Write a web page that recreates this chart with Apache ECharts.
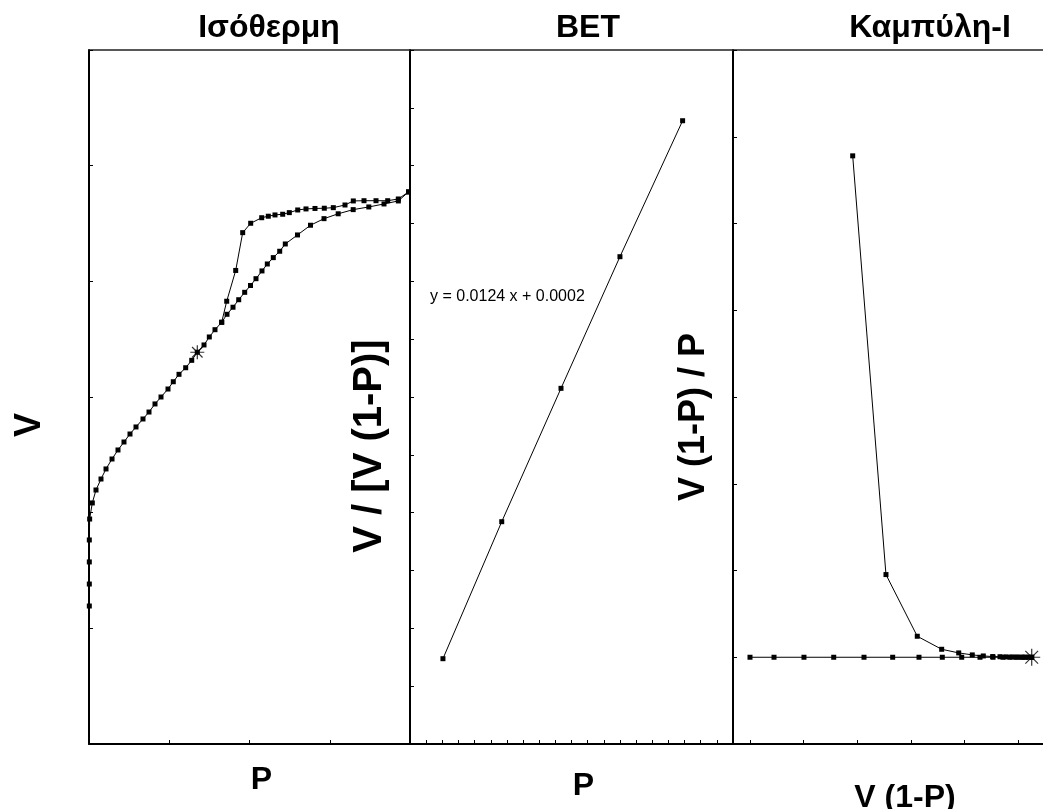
<!DOCTYPE html>
<html><head><meta charset="utf-8">
<script src="https://cdn.jsdelivr.net/npm/echarts@6/dist/echarts.min.js"></script>
<style>html,body{margin:0;padding:0;background:#fff}#c{width:1043px;height:809px}</style>
</head><body><div id="c"></div>
<script>
// ---- texts ----
const panelTitles = ['Ισόθερμη', 'BET', 'Καμπύλη-I'];
const xNames = ['P', 'P', 'V (1-P)'];
const yNames = ['V', 'V / [V (1-P)]', 'V (1-P) / P'];
const betFit = 'y = 0.0124 x + 0.0002';

// ---- panel 1: isotherm (adsorption / desorption) ----
const isoAdsP = [0.001,0.001,0.001,0.001,0.002,0.0103,0.0218,0.0374,0.053,0.0717,0.0903,0.109,0.1277,0.1464,0.1682,0.1869,0.2056,0.2243,0.2461,0.2626,0.2804,0.3012,0.32,0.3374,0.3583,0.3748,0.3925,0.4134,0.4299,0.4486,0.4664,0.485,0.5031,0.5202,0.5389,0.5555,0.5741,0.5941,0.6115,0.6495,0.69,0.7321,0.7763,0.823,0.8717,0.919,0.9636,0.9953];
const isoAdsV = [119.3,138.3,157.4,176.4,194.5,208.4,219.6,229.1,237.8,246.4,254.2,261.1,268,274.1,281,287,294,300,306.9,313.2,319.6,325.3,331.7,338.7,345,351.9,358.2,364.6,371.5,377.6,384.1,390.5,396.4,402.3,409,415,420.5,426,432.3,440.1,448.5,454.2,458.4,462,464.3,466.9,469.5,477.3];
const isoDesP = [0.9953,0.9636,0.9305,0.8941,0.8567,0.8234,0.7975,0.7611,0.733,0.704,0.676,0.6502,0.624,0.6034,0.5794,0.5586,0.538,0.5037,0.4788,0.457,0.429,0.4134];
const isoDesV = [477.3,471.2,469.7,469.7,469.7,469.5,466,463.7,463.2,463,462.6,461.7,459.4,458,457.4,456.3,455,450.2,442.1,409.4,382.8,364.6];
const isoStar = [0.3374, 338.7];

// ---- panel 2: BET ----
const betP = [0.102, 0.284, 0.4675, 0.650, 0.844];
const betY = [0.001475, 0.003844, 0.00615, 0.008426, 0.010777];

// ---- panel 3: curve I ----
const crvX = [1.916,2.537,3.121,3.576,3.894,4.147,4.353,4.528,4.664,4.776,4.888,4.981,5.075,5.149,5.256];
const crvY = [5.78,0.953,0.242,0.092,0.05,0.027,0.015,0.008,0.006,0.004,0.003,0.002,0.001,0.0005,0];
const flatX = [0,0.448,1.007,1.562,2.127,2.662,3.153,3.588,3.95,4.291,4.534,4.72,4.851,4.963,5.056,5.131,5.205,5.256];
const flatY = [0,0,0,0,0,0,0,0,0,0,0,0,0,0,0,0,0,0];
const crvStar = [5.256, 0];
const crvTicks = [0, 1, 2, 3, 4, 5];

const zip = (a, b) => a.map((v, i) => [v, b[i]]);
const FONT = 'Liberation Sans, Arial, sans-serif';
const STAR = 'path://M0,-10L0,10M-7.5,-7.5L7.5,7.5M-7.5,7.5L7.5,-7.5M-10,0L10,0';

const chart = echarts.init(document.getElementById('c'), null, {renderer: 'canvas'});

const lineAx = {show: true, onZero: false, lineStyle: {color: '#000', width: 2}};
function xAx(i, min, max, interval, name, gap, pad, ticks) {
  const a = {
    type: 'value', gridIndex: i, min, max, position: 'bottom',
    axisLine: lineAx, splitLine: {show: false}, axisLabel: {show: false},
    axisTick: {show: true, inside: true, length: 4, lineStyle: {color: '#000', width: 1}},
    name, nameLocation: 'middle', nameGap: gap,
    nameTextStyle: {fontFamily: FONT, fontWeight: 'bold', fontSize: 32, color: '#000', padding: pad}
  };
  if (interval != null) a.interval = interval;
  if (ticks) a.axisTick.customValues = ticks;
  return a;
}
function xTop(i, min, max) {
  return {type: 'value', gridIndex: i, min, max, position: 'top',
    axisLine: {show: true, onZero: false, lineStyle: {color: '#222', width: 1.5}},
    axisTick: {show: false}, axisLabel: {show: false}, splitLine: {show: false}};
}
function yAx(i, min, max, interval, name, gap, pad, fs) {
  return {
    type: 'value', gridIndex: i, min, max, interval, position: 'left',
    axisLine: lineAx, splitLine: {show: false}, axisLabel: {show: false},
    axisTick: {show: true, inside: true, length: 4, lineStyle: {color: '#000', width: 1}},
    name, nameLocation: 'middle', nameGap: gap, nameRotate: 90,
    nameTextStyle: {fontFamily: FONT, fontWeight: 'bold', fontSize: fs, color: '#000', padding: pad}
  };
}
const lineS = (x, y, data, extra) => Object.assign({
  type: 'line', xAxisIndex: x, yAxisIndex: y, data,
  symbol: 'rect', symbolSize: 5, showSymbol: true,
  lineStyle: {color: '#000', width: 1}, itemStyle: {color: '#000'},
  animation: false, silent: true
}, extra || {});
const starS = (x, y, p, size) => ({
  type: 'scatter', xAxisIndex: x, yAxisIndex: y, data: [p],
  symbol: STAR, symbolSize: size,
  itemStyle: {color: 'none', borderColor: '#000', borderWidth: 1.2},
  animation: false, silent: true, z: 5
});

const p3min = -0.317, p3max = -0.317 + 310 / 53.6;

chart.setOption({
  backgroundColor: '#fff',
  animation: false,
  title: panelTitles.map((t, i) => ({
    text: t, left: [264, 583, 925][i], top: 7, textAlign: 'center',
    textStyle: {fontFamily: FONT, fontWeight: 'bold', fontSize: 32, color: '#000'}
  })),
  grid: [
    {left: 89, right: 633, top: 50, bottom: 65, outerBoundsMode: 'none', containLabel: false},
    {left: 410, right: 310, top: 50, bottom: 65, outerBoundsMode: 'none', containLabel: false},
    {left: 733, right: 0, top: 50, bottom: 65, outerBoundsMode: 'none', containLabel: false}
  ],
  xAxis: [
    xAx(0, 0, 1, 0.25, xNames[0], 20, [0, 0, 0, 24]),
    xAx(1, 0, 1, 0.05, xNames[1], 26, [0, 0, 0, 24]),
    xAx(2, p3min, p3max, null, xNames[2], 38, [0, 0, 0, 34], crvTicks),
    xTop(0, 0, 1), xTop(1, 0, 1), xTop(2, p3min, p3max)
  ],
  yAxis: [
    yAx(0, 0, 600, 100, yNames[0], 41, [0, 56, 0, 0], 36),
    yAx(1, 0, 0.012, 0.001, yNames[1], 20, [0, 98, 0, 0], 40),
    yAx(2, -1, 7, 1, yNames[2], 21, [0, 40, 0, 0], 36)
  ],
  graphic: [{
    type: 'text', left: 430, top: 289,
    style: {text: betFit, font: '16px ' + FONT, fill: '#000'}
  }],
  series: [
    lineS(0, 0, zip(isoAdsP, isoAdsV)),
    lineS(0, 0, zip(isoDesP, isoDesV)),
    starS(0, 0, isoStar, 14),
    lineS(1, 1, zip(betP, betY)),
    lineS(2, 2, zip(crvX, crvY)),
    lineS(2, 2, zip(flatX, flatY)),
    starS(2, 2, crvStar, 17)
  ]
});
</script>
</body></html>
